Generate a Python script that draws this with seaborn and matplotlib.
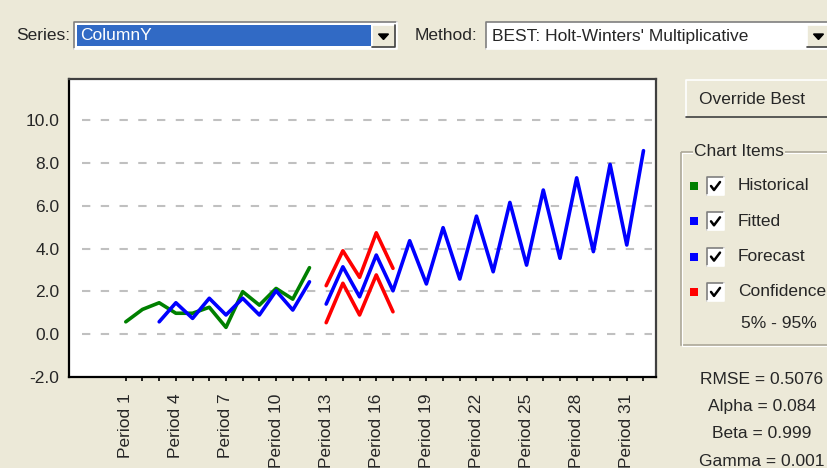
import matplotlib
matplotlib.use("Agg")
import matplotlib.pyplot as plt
from matplotlib.patches import Rectangle, Polygon
import numpy as np
import pandas as pd
import seaborn as sns

# values
hist_periods = list(range(1, 13))
hist_values = [0.58, 1.16, 1.47, 0.98, 0.98, 1.26, 0.32, 1.99, 1.36, 2.14, 1.64, 3.11]

fit_periods = list(range(3, 13))
fit_values = [0.58, 1.47, 0.74, 1.68, 0.90, 1.68, 0.90, 2.03, 1.13, 2.45]

fc_periods = list(range(13, 33))
fc_values = [1.41, 3.15, 1.75, 3.70, 2.03, 4.37, 2.35, 4.98, 2.58, 5.52,
             2.92, 6.16, 3.23, 6.74, 3.55, 7.31, 3.86, 7.94, 4.17, 8.58]

ci_periods = list(range(13, 18))
ci_upper = [2.27, 3.90, 2.66, 4.74, 3.08]
ci_lower = [0.54, 2.38, 0.90, 2.77, 1.05]

label_periods = list(range(1, 32, 3))
y_ticks = [-2, 0, 2, 4, 6, 8, 10]

legend_items = ["Historical", "Fitted", "Forecast", "Confidence"]
legend_colors = ["#008000", "#0000FF", "#0000FF", "#FF0000"]
stats_lines = ["RMSE = 0.5076", "Alpha = 0.084", "Beta = 0.999", "Gamma = 0.001"]

palette = {"Historical": "#008000", "Fitted": "#0000FF", "Forecast": "#0000FF",
           "Upper": "#FF0000", "Lower": "#FF0000"}

df = pd.concat([
    pd.DataFrame({"period": hist_periods, "value": hist_values, "series": "Historical"}),
    pd.DataFrame({"period": fit_periods, "value": fit_values, "series": "Fitted"}),
    pd.DataFrame({"period": fc_periods, "value": fc_values, "series": "Forecast"}),
    pd.DataFrame({"period": ci_periods, "value": ci_upper, "series": "Upper"}),
    pd.DataFrame({"period": ci_periods, "value": ci_lower, "series": "Lower"}),
], ignore_index=True)

sns.set_theme(style="white")
plt.rcParams["font.family"] = ["Liberation Sans", "DejaVu Sans"]
FS = 12.5
BG = "#ECE9D8"

fig = plt.figure(figsize=(8.28, 4.68), dpi=100, facecolor=BG)

# ---- dialog widgets, drawn in pixel coords
ui = fig.add_axes([0, 0, 1, 1], zorder=0)
ui.set_xlim(0, 828)
ui.set_ylim(468, 0)
ui.axis("off")


def sunken(x0, y0, x1, y1, face):
    ui.add_patch(Rectangle((x0, y0), x1 - x0, y1 - y0, facecolor=face, edgecolor="none"))
    ui.plot([x0, x0, x1], [y1, y0, y0], color="#7F7F7F", lw=1.2)
    ui.plot([x0, x1, x1], [y1, y1, y0], color="white", lw=1.2)


def raised(x0, y0, x1, y1):
    ui.add_patch(Rectangle((x0, y0), x1 - x0, y1 - y0, facecolor=BG, edgecolor="none"))
    ui.plot([x0, x0, x1], [y1, y0, y0], color="white", lw=1.2)
    ui.plot([x0, x1, x1], [y1, y1, y0], color="#404040", lw=1.2)


def drop_button(x0, y0, x1, y1):
    raised(x0, y0, x1, y1)
    cx, cy = (x0 + x1) / 2, (y0 + y1) / 2
    ui.add_patch(Polygon([[cx - 5, cy - 2], [cx + 5, cy - 2], [cx, cy + 3.5]], closed=True,
                         facecolor="black", edgecolor="black"))


ui.text(16, 35, "Series:", fontsize=FS, va="center", ha="left")
sunken(74, 22, 397, 49, "white")
ui.add_patch(Rectangle((77, 25), 294, 21, facecolor="#316AC5", edgecolor="none"))
ui.text(80, 36, "ColumnY", fontsize=FS, color="white", va="center", ha="left")
drop_button(372, 25, 395, 47)

ui.text(415, 35, "Method:", fontsize=FS, va="center", ha="left")
sunken(486, 22, 832, 49, "white")
ui.text(492, 36, "BEST: Holt-Winters' Multiplicative", fontsize=FS, va="center", ha="left")
drop_button(807, 25, 830, 47)

raised(686, 80, 832, 117)
ui.text(752, 99, "Override Best", fontsize=FS, va="center", ha="center")

ui.add_patch(Rectangle((681, 152), 160, 193, facecolor="none", edgecolor="#ACA899", lw=1.2))
ui.add_patch(Rectangle((682, 153), 160, 193, facecolor="none", edgecolor="white", lw=0.8))
ui.text(694, 152, "Chart Items", fontsize=FS, va="center", ha="left",
        bbox=dict(facecolor=BG, edgecolor="none", pad=1))

for i, (name, col) in enumerate(zip(legend_items, legend_colors)):
    y = 186 + i * 35.3
    ui.add_patch(Rectangle((690, y - 4), 8, 8, facecolor=col, edgecolor="none"))
    sunken(707, y - 9, 724, y + 9, "white")
    ui.plot([711, 714, 720], [y, y + 4, y - 4], color="black", lw=1.8)
    ui.text(738, y, name, fontsize=FS, va="center", ha="left")
ui.text(779, 323, "5% - 95%", fontsize=FS, va="center", ha="center")

for i, s in enumerate(stats_lines):
    ui.text(762, 379 + i * 27.5, s, fontsize=FS, va="center", ha="center")

# ---- chart
ax = fig.add_axes([69 / 828, 1 - 377 / 468, 587 / 828, 298 / 468], zorder=2)
ax.set_facecolor("white")
sns.lineplot(data=df, x="period", y="value", hue="series", palette=palette,
             legend=False, linewidth=2.6, ax=ax, zorder=3)

ax.set_xlim(-2.4, 32.75)
ax.set_ylim(-2, 11.93)

for v in y_ticks:
    if v >= 0:
        ax.axhline(v, xmin=0.022, xmax=0.993, color="#C0C0C0", lw=1.5,
                   dashes=(4, 5), zorder=1)

ax.set_yticks(y_ticks)
ax.set_yticklabels([f"{v:.1f}" for v in y_ticks], fontsize=FS)
ax.set_xticks(label_periods)
ax.set_xticklabels([f"Period {p}" for p in label_periods], rotation=90, fontsize=FS)
ax.set_xticks(list(range(1, 33)), minor=True)
ax.tick_params(axis="y", direction="inout", length=10, width=1.2, color="black", pad=2)
ax.tick_params(axis="x", which="both", direction="out", length=3, width=1.2,
               color="black", pad=9, bottom=True)
ax.set_xlabel("")
ax.set_ylabel("")

for side in ["left", "bottom"]:
    ax.spines[side].set_color("black")
    ax.spines[side].set_linewidth(1.6)
for side in ["top", "right"]:
    ax.spines[side].set_color("#404040")
    ax.spines[side].set_linewidth(1.6)

fig.savefig("out.png", dpi=100, facecolor=BG)
